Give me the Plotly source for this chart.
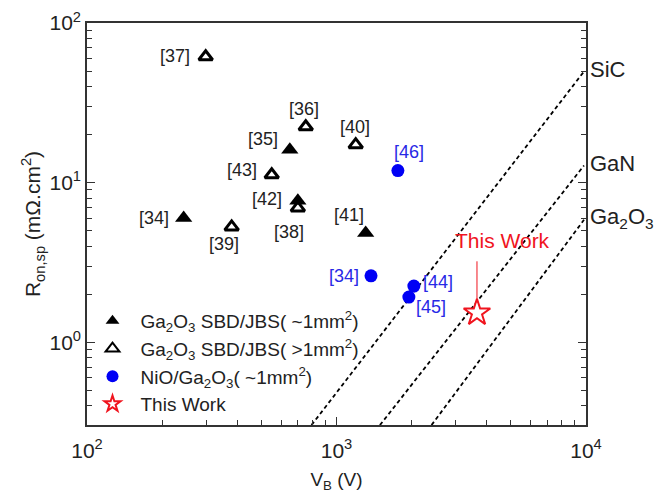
import plotly.graph_objects as go
import math

# ---- data ----
# Ga2O3 SBD/JBS (~1mm2) : filled triangles
fill_v = [244, 650, 700, 1309]
fill_r = [6.0, 16.1, 7.7, 4.84]
fill_lbl = ["[34]", "[35]", "[42]", "[41]"]

# Ga2O3 SBD/JBS (>1mm2) : open triangles
open_v = [299, 753, 1194, 550, 700, 380]
open_r = [61.5, 22.4, 17.3, 11.2, 6.95, 5.28]
open_lbl = ["[37]", "[36]", "[40]", "[43]", "[38]", "[39]"]

# NiO/Ga2O3 (~1mm2) : blue circles
nio_v = [1762, 1375, 2042, 1950]
nio_r = [11.9, 2.61, 2.25, 1.92]
nio_lbl = ["[46]", "[34]", "[44]", "[45]"]

# This work
tw_v = [3656]
tw_r = [1.53]

# material limit lines (end points)
sic_v = [794, 9817]
sic_r = [0.303, 49.7]
gan_v = [1493, 9817]
gan_r = [0.303, 12.8]
gao_v = [2404, 9817]
gao_r = [0.303, 5.85]
limit_names = ["SiC", "GaN", "Ga<sub>2</sub>O<sub>3</sub>"]

# axis ticks
x_tickvals = [100, 1000, 10000]
x_ticktext = ["10<sup>2</sup>", "10<sup>3</sup>", "10<sup>4</sup>"]
y_tickvals = [1, 10, 100]
y_ticktext = ["10<sup>0</sup>", "10<sup>1</sup>", "10<sup>2</sup>"]

# label offsets (px) for the reference tags
fill_off = [(-30, 0), (-27, -11), (-31, -2), (-17, -18)]
open_off = [(-31, -1), (-2, -18), (-1, -18), (-30, -5), (-9, 24), (-8, 17)]
nio_off = [(11, -19), (-27, 0), (24, -4), (22, 10)]

FONT = "Arial, Liberation Sans, sans-serif"
BLUE = "#0000f5"
BLUE_TXT = "#2828e6"
RED = "#f0141e"

fig = go.Figure()

for vv, rr in [(sic_v, sic_r), (gan_v, gan_r), (gao_v, gao_r)]:
    fig.add_trace(go.Scatter(x=vv, y=rr, mode="lines", showlegend=False,
                             line=dict(color="black", width=1.8, dash="4px,3px"),
                             hoverinfo="skip"))

fig.add_trace(go.Scatter(x=fill_v, y=fill_r, mode="markers",
                         name="Ga<sub>2</sub>O<sub>3</sub> SBD/JBS( ~1mm<sup>2</sup>)",
                         marker=dict(symbol="triangle-up", size=15, color="black",
                                     line=dict(width=0))))
fig.add_trace(go.Scatter(x=open_v, y=open_r, mode="markers",
                         name="Ga<sub>2</sub>O<sub>3</sub> SBD/JBS( >1mm<sup>2</sup>)",
                         marker=dict(symbol="triangle-up-open", size=12, color="black",
                                     line=dict(width=3, color="black"))))
fig.add_trace(go.Scatter(x=nio_v, y=nio_r, mode="markers",
                         name="NiO/Ga<sub>2</sub>O<sub>3</sub>( ~1mm<sup>2</sup>)",
                         marker=dict(symbol="circle", size=13, color=BLUE,
                                     line=dict(width=0))))
fig.add_trace(go.Scatter(x=tw_v, y=tw_r, mode="markers", name="This Work",
                         marker=dict(symbol="star", size=20, color="white",
                                     line=dict(width=2, color=RED))))

ann = []
def tags(vs, rs, labels, offs, color):
    for v, r, t, (dx, dy) in zip(vs, rs, labels, offs):
        ann.append(dict(x=math.log10(v), y=math.log10(r), text=t, showarrow=False,
                        xshift=dx, yshift=-dy, font=dict(size=18, color=color, family=FONT)))

tags(fill_v, fill_r, fill_lbl, fill_off, "#222")
tags(open_v, open_r, open_lbl, open_off, "#222")
tags(nio_v, nio_r, nio_lbl, nio_off, BLUE_TXT)

# line names at the right end of each line
for vv, rr, nm in zip([sic_v, gan_v, gao_v], [sic_r, gan_r, gao_r], limit_names):
    ann.append(dict(x=math.log10(vv[-1]), y=math.log10(rr[-1]), text=nm, showarrow=False,
                    xanchor="left", xshift=4, yshift=2,
                    font=dict(size=22, color="#222", family=FONT)))

# This Work callout
ann.append(dict(x=math.log10(tw_v[0]), y=math.log10(tw_r[0]), text="", showarrow=True,
                arrowhead=0, arrowwidth=1, arrowcolor=RED, ax=0, ay=-53, standoff=10))
ann.append(dict(x=math.log10(tw_v[0]), y=math.log10(tw_r[0]), text="This Work",
                showarrow=False, xshift=26, yshift=72,
                font=dict(size=21, color=RED, family=FONT)))

axis_common = dict(type="log", showgrid=False, zeroline=False, showline=True,
                   linecolor="#333", linewidth=1.6, ticks="inside", ticklen=8,
                   tickwidth=1.4, tickcolor="#333", automargin=False,
                   tickfont=dict(size=21, color="#222", family=FONT),
                   minor=dict(ticks="inside", ticklen=5, tickwidth=1.2, tickcolor="#333",
                              dtick="D1", showgrid=False))

fig.update_layout(
    width=654, height=493,
    margin=dict(l=87, r=68, t=23, b=68),
    paper_bgcolor="white", plot_bgcolor="white",
    font=dict(family=FONT, color="#222"),
    xaxis=dict(axis_common, range=[2, 4], mirror=True,
               tickvals=x_tickvals, ticktext=x_ticktext, ticklabelstandoff=6,
               title=dict(text="V<sub>B</sub> (V)", font=dict(size=19, family=FONT), standoff=12)),
    yaxis=dict(axis_common, range=[-0.518, 2], mirror="allticks",
               tickvals=y_tickvals, ticktext=y_ticktext,
               title=dict(text="R<sub>on,sp</sub> (mΩ.cm<sup>2</sup>)",
                          font=dict(size=21, family=FONT), standoff=3)),
    legend=dict(x=-0.005, y=0.306, xanchor="left", yanchor="top",
                bgcolor="rgba(0,0,0,0)", font=dict(size=19, family=FONT, color="#222"),
                itemsizing="constant", itemwidth=46),
    annotations=ann,
    showlegend=True,
)

fig.write_html("out.html")
